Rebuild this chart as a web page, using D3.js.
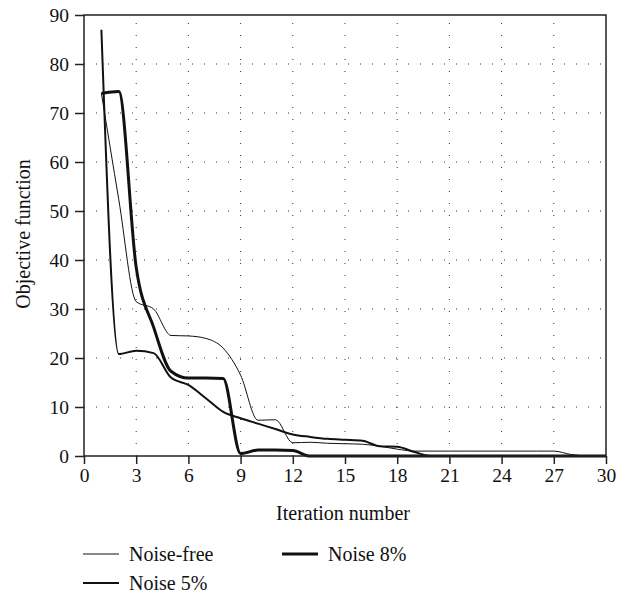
<!DOCTYPE html>
<html>
<head>
<meta charset="utf-8">
<script src="https://cdn.jsdelivr.net/npm/d3@7"></script>
<style>
  html, body { margin: 0; padding: 0; background: #fff; }
  svg { display: block; }
  svg text { font-family: "Liberation Serif", "DejaVu Serif", "Times New Roman", serif; fill: #111; }
</style>
</head>
<body>
<svg id="chart" width="633" height="597"></svg>
<script>
const iterations = d3.range(1, 31);
const noiseFree = [74, 52.3, 31.5, 30, 24.6, 24.5, 24, 22, 16.5, 7.3, 7.4, 2.7, 2.8, 2.6, 2.5, 2.4, 2.0, 1.4, 1.0, 1.0, 1.0, 1.0, 1.0, 1.0, 1.0, 1.0, 1.0, 0.3, 0, 0];
const noise5 = [87, 20.8, 21.5, 21, 16, 14.5, 11.8, 9, 7.7, 6.6, 5.5, 4.4, 3.9, 3.5, 3.3, 3.1, 2.0, 1.9, 0.8, 0, 0, 0, 0, 0, 0, 0, 0, 0, 0, 0];
const noise8 = [74, 74.4, 38.5, 26.3, 17.3, 15.9, 15.9, 15.8, 0.5, 1.2, 1.2, 1.1, 0, 0, 0, 0, 0, 0, 0, 0, 0, 0, 0, 0, 0, 0, 0, 0, 0, 0];
const xTicks = [0, 3, 6, 9, 12, 15, 18, 21, 24, 27, 30];
const yTicks = [0, 10, 20, 30, 40, 50, 60, 70, 80, 90];
const seriesNames = ["Noise-free", "Noise 5%", "Noise 8%"];
const seriesWidths = [1, 2, 3];

const svg = d3.select("#chart");
const x = d3.scaleLinear().domain([0, 30]).range([84, 606]);
const y = d3.scaleLinear().domain([0, 90]).range([456, 15]);

// grid
const grid = svg.append("g");
grid.selectAll("line.v").data(xTicks.filter(d => d > 0 && d < 30)).join("line")
  .attr("x1", d => x(d)).attr("x2", d => x(d)).attr("y1", y(0)).attr("y2", y(90))
  .attr("stroke", "#333").attr("stroke-width", 1).attr("stroke-dasharray", "1,11");
grid.selectAll("line.h").data(yTicks.filter(d => d > 0 && d < 90)).join("line")
  .attr("x1", x(0)).attr("x2", x(30)).attr("y1", d => y(d)).attr("y2", d => y(d))
  .attr("stroke", "#333").attr("stroke-width", 1).attr("stroke-dasharray", "1,11");

// lines
const line = d3.line().x((d, i) => x(iterations[i])).y(d => y(d)).curve(d3.curveMonotoneX);
[noiseFree, noise5, noise8].forEach((s, k) => {
  svg.append("path").datum(s).attr("d", line).attr("fill", "none")
    .attr("stroke", "#111").attr("stroke-width", seriesWidths[k]).attr("stroke-linejoin", "round");
});

// frame
svg.append("rect").attr("x", x(0)).attr("y", y(90)).attr("width", x(30) - x(0)).attr("height", y(0) - y(90))
  .attr("fill", "none").attr("stroke", "#222").attr("stroke-width", 1.5);

// axes
const xAxis = d3.axisBottom(x).tickValues(xTicks).tickSize(8).tickPadding(4);
const gx = svg.append("g").attr("transform", `translate(0,${y(0)})`).call(xAxis);
gx.select(".domain").remove();
gx.attr("font-family", null).attr("font-size", null);
gx.selectAll("line").attr("stroke", "#222").attr("stroke-width", 1.5);
gx.selectAll("text").attr("font-size", 19.5).attr("fill", "#111");

const yAxis = d3.axisLeft(y).tickValues(yTicks).tickSize(9).tickPadding(6);
const gy = svg.append("g").attr("transform", `translate(${x(0)},0)`).call(yAxis);
gy.select(".domain").remove();
gy.attr("font-family", null).attr("font-size", null);
gy.selectAll("line").attr("stroke", "#222").attr("stroke-width", 1.5);
gy.selectAll("text").attr("font-size", 19.5).attr("fill", "#111");

// titles
svg.append("text").attr("x", 343).attr("y", 520).attr("text-anchor", "middle").attr("font-size", 20).text("Iteration number");
svg.append("text").attr("transform", "translate(30,234) rotate(-90)").attr("text-anchor", "middle").attr("font-size", 20).text("Objective function");

// legend
const legendPos = [[83, 554], [83, 583], [282, 554]];
seriesNames.forEach((n, k) => {
  const [lx, ly] = legendPos[k];
  svg.append("line").attr("x1", lx).attr("x2", lx + 36).attr("y1", ly).attr("y2", ly)
    .attr("stroke", "#111").attr("stroke-width", seriesWidths[k]);
  svg.append("text").attr("x", lx + 46).attr("y", ly + 6.5).attr("font-size", 20).text(n);
});
</script>
</body>
</html>
